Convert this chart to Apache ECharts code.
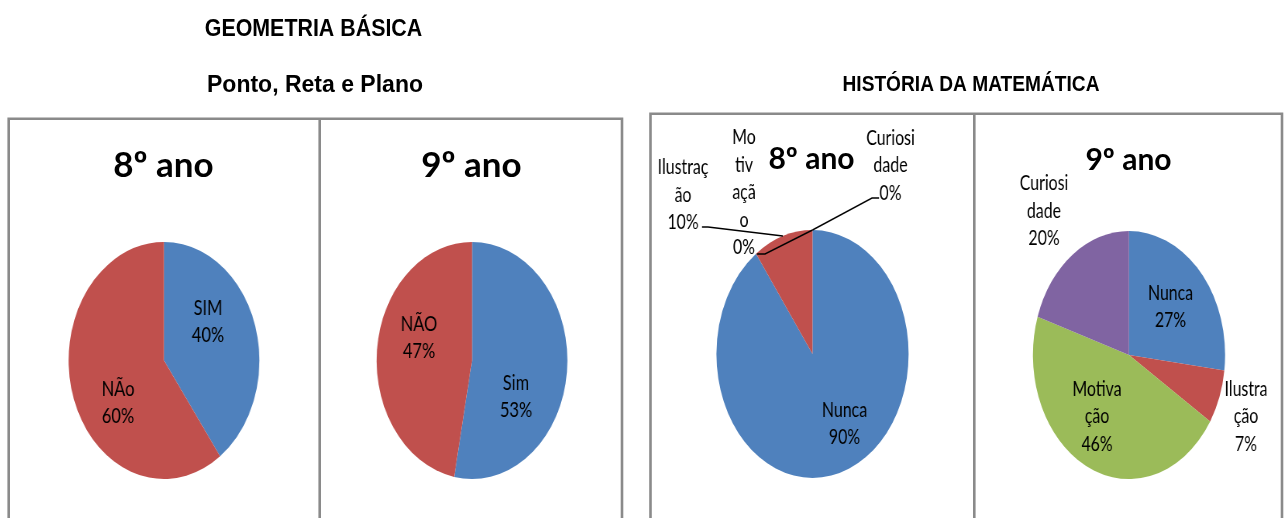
<!DOCTYPE html>
<html><head><meta charset="utf-8">
<script src="https://cdn.jsdelivr.net/npm/echarts@6/dist/echarts.min.js"></script>
<style>
html,body{margin:0;padding:0;background:#fff;overflow:hidden}
#wrap{position:relative;width:1288px;height:518px;overflow:hidden;background:#fff}
.layer{position:absolute;left:0;top:0;height:518px}
</style></head><body>
<div id="wrap">
<div id="base" class="layer" style="width:1288px"></div>
<div id="geo" class="layer"></div>
<div id="hist" class="layer"></div>
</div>
<script>
// ---------- DATA ----------
const geoCats8 = ['SIM', 'NÃo'];
const geoVals8 = [40, 60];
const geoCats9 = ['Sim', 'NÃO'];
const geoVals9 = [53, 47];
const histCats = ['Nunca', 'Ilustração', 'Motivação', 'Curiosidade'];
const histVals8 = [90, 10, 0, 0];
const histVals9 = [27, 7, 46, 20];
// label text as wrapped in the picture
const histWrap8 = ['Nunca', 'Ilustraç\não', 'Mo\ntiv\naçã\no', 'Curiosi\ndade'];
const histWrap9 = ['Nunca', 'Ilustra\nção', 'Motiva\nção', 'Curiosi\ndade'];
const mainTitles = ['GEOMETRIA BÁSICA', 'Ponto, Reta e Plano', 'HISTÓRIA DA MATEMÁTICA'];
const panelTitles = ['8º ano', '9º ano'];

// ---------- STYLE / LAYOUT ----------
const palette = ['#4F81BD', '#C0504D', '#9BBB59', '#8064A2'];
const S_GEO = 0.805, S_HIST = 0.775;

function makeLayer(id, s) {
  const el = document.getElementById(id);
  el.style.width = (1288 / s) + 'px';
  el.style.height = '518px';
  if (s !== 1) {
    el.style.transform = 'scaleX(' + s + ')';
    el.style.transformOrigin = '0 0';
  }
  return echarts.init(el, null, { renderer: 'canvas' });
}

// mode: 'all' (single series), 'fill' (slices + inside labels), 'guides' (transparent slices + outside labels with leader lines)
function pieSeries(cats, vals, texts, cxRef, cy, r, s, spots, lines, mode) {
  mode = mode || 'all';
  return {
    type: 'pie',
    z: mode === 'guides' ? 5 : 2,
    center: [cxRef / s, cy],
    radius: [0, r],
    startAngle: 90,
    clockwise: true,
    avoidLabelOverlap: false,
    silent: true,
    animation: false,
    label: {
      show: true, position: 'inside', overflow: 'none',
      formatter: p => texts[p.dataIndex] + '\n' + Math.round(p.percent) + '%',
      fontFamily: 'Lato', fontSize: 20.5, lineHeight: 27.4, color: '#000', align: 'center'
    },
    labelLine: { show: false },
    itemStyle: { borderWidth: 0 },
    emphasis: { disabled: true },
    data: cats.map((c, i) => {
      const hasLine = !!(lines && lines[i]);
      const d = { name: c, value: vals[i],
        itemStyle: { color: mode === 'guides' ? 'rgba(0,0,0,0)' : palette[i] } };
      if (mode === 'fill' && hasLine) d.label = { show: false };
      if (mode === 'guides') {
        if (hasLine) {
          d.label = { show: true, position: 'outside', color: '#000' };
          d.labelLine = { show: true, showAbove: true, lineStyle: { color: '#000', width: 1.6, opacity: 1 } };
        } else {
          d.label = { show: false };
        }
      }
      return d;
    }),
    labelLayout: function (p) {
      const i = p.dataIndex;
      const o = spots[i];
      const res = { x: (cxRef + o[0]) / s, y: cy + o[1], align: 'center', verticalAlign: 'middle' };
      if (lines && lines[i] && p.labelLinePoints) {
        const pts = p.labelLinePoints;
        res.labelLinePoints = [pts[0], [lines[i][0][0] / s, lines[i][0][1]], [lines[i][1][0] / s, lines[i][1][1]]];
      }
      return res;
    }
  };
}

// label anchor offsets (final pixels, relative to pie centre)
const spotsG8 = [[44, -38.5], [-46, 42.5]];
const spotsG9 = [[44, 36.5], [-53, -22.5]];
const spotsH8 = [[32, 70], [-129.5, -159], [-68.5, -161.5], [78, -188.5]];
const spotsH9 = [[41.5, -48], [117, 61.5], [-32, 61.5], [-85, -144]];
// leader line elbows / ends (final pixels)
const linesH8 = [null, [[708, 227], [702, 227]], [[765, 254], [757, 254]], [[872, 198], [879, 198]]];

// ---------- BASE LAYER: frames + titles ----------
const base = makeLayer('base', 1);
const frameStyle = { stroke: '#8a8a8a', lineWidth: 2.6, fill: 'none' };
function txt(t, x, y, size, family, weight, sx) {
  return { type: 'text', x: x, y: y, scaleX: sx || 1, silent: true,
    style: { text: t, fontSize: size, fontFamily: family, fontWeight: weight, fill: '#000', align: 'center', verticalAlign: 'middle' } };
}
base.setOption({
  animation: false,
  graphic: [
    { type: 'rect', shape: { x: 8.7, y: 118.7, width: 613.3, height: 460 }, style: frameStyle, silent: true },
    { type: 'line', shape: { x1: 319.7, y1: 118.7, x2: 319.7, y2: 530 }, style: frameStyle, silent: true },
    { type: 'rect', shape: { x: 650.5, y: 113.7, width: 631.5, height: 460 }, style: frameStyle, silent: true },
    { type: 'line', shape: { x1: 974.3, y1: 113.7, x2: 974.3, y2: 530 }, style: frameStyle, silent: true },
    txt(mainTitles[0], 313.5, 30, 23, 'Liberation Sans', 'bold', 0.93),
    txt(mainTitles[1], 315, 86, 23, 'Liberation Sans', 'bold', 1),
    txt(mainTitles[2], 971, 85, 22, 'Liberation Sans', 'bold', 0.87),
    txt(panelTitles[0], 163.5, 166, 35, 'Lato', 'bold'),
    txt(panelTitles[1], 471.5, 166, 35, 'Lato', 'bold'),
    txt(panelTitles[0], 811.5, 159, 30, 'Lato', 'bold'),
    txt(panelTitles[1], 1128.5, 160, 30, 'Lato', 'bold')
  ]
});

// ---------- PIE LAYERS ----------
const geo = makeLayer('geo', S_GEO);
geo.setOption({
  animation: false,
  series: [
    pieSeries(geoCats8, geoVals8, geoCats8, 164, 360.5, 118.5, S_GEO, spotsG8, null),
    pieSeries(geoCats9, geoVals9, geoCats9, 472, 360.5, 118.5, S_GEO, spotsG9, null)
  ]
});

const hist = makeLayer('hist', S_HIST);
hist.setOption({
  animation: false,
  series: [
    pieSeries(histCats, histVals8, histWrap8, 812.5, 354, 124, S_HIST, spotsH8, linesH8, 'fill'),
    pieSeries(histCats, histVals8, histWrap8, 812.5, 354, 124, S_HIST, spotsH8, linesH8, 'guides'),
    pieSeries(histCats, histVals9, histWrap9, 1129, 355, 124, S_HIST, spotsH9, null)
  ]
});
</script>
</body></html>
